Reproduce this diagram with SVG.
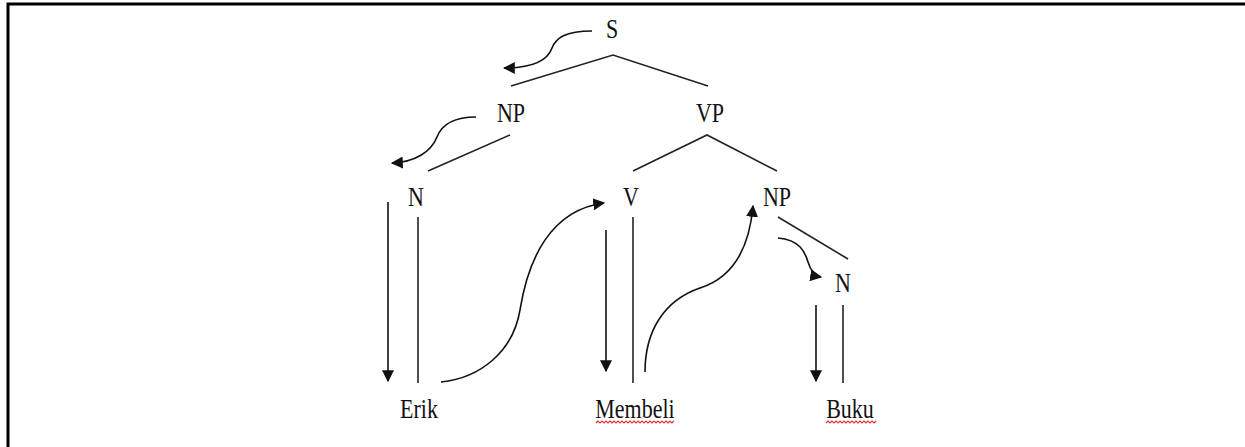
<svg xmlns="http://www.w3.org/2000/svg" width="1245" height="447" viewBox="0 0 1245 447">
<style>
.lbl{font-family:"Liberation Serif","Times New Roman",serif;font-size:22px;fill:#111;text-anchor:middle}
.ln{stroke:#222;stroke-width:1.6;fill:none}
.arr{stroke:#111;stroke-width:1.6;fill:none;marker-end:url(#ah)}
.sq{stroke:#d33;stroke-width:1.2;fill:none}
</style>
<defs>
<marker id="ah" viewBox="0 0 10 10" refX="9" refY="5" markerWidth="7.5" markerHeight="7.5" markerUnits="strokeWidth" orient="auto">
<path d="M0,0 L10,5 L0,10 Z" fill="#111"/>
</marker>
</defs>
<rect width="1245" height="447" fill="#fff"/>
<g id="frame">
<path d="M8,447 V4 H1245" fill="none" stroke="#000" stroke-width="3"/>
</g>
<g id="S"><text class="lbl" transform="translate(612,38) scale(1,1.2)">S</text></g>
<g id="NP1"><text class="lbl" transform="translate(511,122) scale(1,1.2)">NP</text></g>
<g id="VP"><text class="lbl" transform="translate(710,122) scale(1,1.2)">VP</text></g>
<g id="N1"><text class="lbl" transform="translate(416,206) scale(1,1.2)">N</text></g>
<g id="V"><text class="lbl" transform="translate(631,206) scale(1,1.2)">V</text></g>
<g id="NP2"><text class="lbl" transform="translate(777,206) scale(1,1.2)">NP</text></g>
<g id="N2"><text class="lbl" transform="translate(843,292) scale(1,1.2)">N</text></g>
<g id="Erik"><text class="lbl" transform="translate(419,418) scale(1,1.2)">Erik</text></g>
<g id="Membeli"><text class="lbl" transform="translate(635,418) scale(1,1.2)">Membeli</text>
<path class="sq" d="M596,423 l2,-2 l2,2 l2,-2 l2,2 l2,-2 l2,2 l2,-2 l2,2 l2,-2 l2,2 l2,-2 l2,2 l2,-2 l2,2 l2,-2 l2,2 l2,-2 l2,2 l2,-2 l2,2 l2,-2 l2,2 l2,-2 l2,2 l2,-2 l2,2 l2,-2 l2,2 l2,-2 l2,2 l2,-2 l2,2 l2,-2 l2,2 l2,-2 l2,2 l2,-2 l2,2 l2,-2"/></g>
<g id="Buku"><text class="lbl" transform="translate(850,418) scale(1,1.2)">Buku</text>
<path class="sq" d="M826,423 l2,-2 l2,2 l2,-2 l2,2 l2,-2 l2,2 l2,-2 l2,2 l2,-2 l2,2 l2,-2 l2,2 l2,-2 l2,2 l2,-2 l2,2 l2,-2 l2,2 l2,-2 l2,2 l2,-2 l2,2 l2,-2 l2,2 l2,-2"/></g>
<g id="connectors">
<path class="ln" d="M511,86 L613,55 L708,86"/>
<path class="ln" d="M510,135 L428,171"/>
<path class="ln" d="M633,171 L707,135 L777,171"/>
<path class="ln" d="M418,217 V383"/>
<path class="ln" d="M633,217 V383"/>
<path class="ln" d="M778,217 L848,259"/>
<path class="ln" d="M843,305 V383"/>
<path class="arr" d="M592,31 C565,31 556,38 552,48 C547,62 530,68 504,68"/>
<path class="arr" d="M476,117 C455,117 442,124 437,137 C431,152 415,162 392,163"/>
<path class="arr" d="M388,202 V381"/>
<path class="arr" d="M441,382 C480,378 513,352 520,310 C528,260 550,210 604,203"/>
<path class="arr" d="M606,230 V371"/>
<path class="arr" d="M645,372 C645,330 665,300 700,288 C738,276 750,240 753,206"/>
<path class="arr" d="M778,238 C800,240 805,252 808,262 C811,272 815,276 821,277"/>
<path class="arr" d="M816,305 V381"/>
</g>
</svg>
